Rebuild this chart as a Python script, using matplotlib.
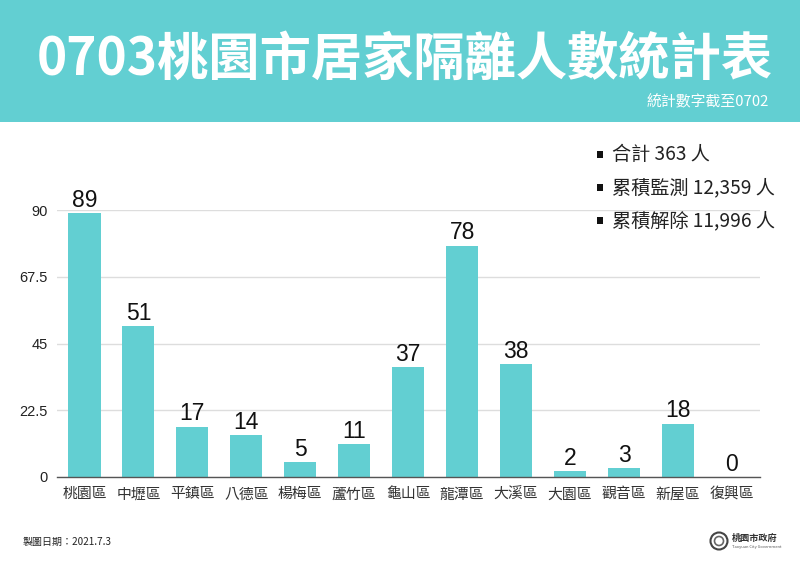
import matplotlib
matplotlib.use("Agg")
import matplotlib.pyplot as plt
from matplotlib.patches import Rectangle, Circle

plt.rcParams['font.family'] = ['Noto Sans CJK TC', 'DejaVu Sans']

districts = ['桃園區','中壢區','平鎮區','八德區','楊梅區','蘆竹區','龜山區','龍潭區','大溪區','大園區','觀音區','新屋區','復興區']
counts = [89,51,17,14,5,11,37,78,38,2,3,18,0]
yticks = [0,22.5,45,67.5,90]
ytick_labels = ['0','22.5','45','67.5','90']
summary = ['合計 363 人','累積監測 12,359 人','累積解除 11,996 人']

W,H = 800,565
TEAL = '#62CFD2'
fig = plt.figure(figsize=(8,5.65),dpi=100,facecolor='white')
bg = fig.add_axes([0,0,1,1]); bg.set_xlim(0,W); bg.set_ylim(H,0); bg.axis('off')
bg.add_patch(Rectangle((0,0),W,122,color=TEAL,lw=0))
bg.text(404.5,59,'0703桃園市居家隔離人數統計表',color='white',fontsize=36.9,fontweight='bold',ha='center',va='center')
bg.text(769,102,'統計數字截至0702',color='white',fontsize=10.7,ha='right',va='center')

ax = fig.add_axes([57.5/W,1-477/H,(760-57.5)/W,(477-210)/H])
ax.patch.set_alpha(0)
ax.bar(range(len(counts)),counts,width=0.595,color=TEAL,zorder=2)
ax.set_xlim(-0.5,12.52); ax.set_ylim(0,90)
ax.set_yticks(yticks); ax.set_yticklabels(ytick_labels,fontsize=10.5,color='#222222',family=['Liberation Sans','Noto Sans CJK TC'])
ax.set_xticks(range(len(districts))); ax.set_xticklabels(districts,fontsize=10.7,color='#333333')
ax.tick_params(length=0); ax.tick_params(axis='x',pad=7.5); ax.tick_params(axis='y',pad=7)
ax.grid(axis='y',color='#DDDDDD',lw=1,zorder=0); ax.set_axisbelow(True)
for s in ['top','left','right']: ax.spines[s].set_visible(False)
ax.spines['bottom'].set_color('#555555'); ax.spines['bottom'].set_linewidth(1)
for i,v in enumerate(counts):
    ax.annotate(str(v),(i,v),xytext=(0,0.8),textcoords='offset points',ha='center',va='bottom',fontsize=16.5,color='#111111',clip_on=False,
                family=['Liberation Sans','Noto Sans CJK TC'])

for t,y in zip(summary,[154,187,220]):
    bg.add_patch(Rectangle((597,y-3),6,7,color='#111111',lw=0,zorder=5))
    bg.text(612,y+0.5,t,fontsize=13.8,color='#222222',ha='left',va='center',zorder=5)

bg.text(23,542,'製圖日期：2021.7.3',fontsize=7.2,color='#222222',ha='left',va='center')
bg.add_patch(Circle((719,541),8.5,fill=False,ec='#444444',lw=1.5))
bg.add_patch(Circle((719,541),4.5,fill=False,ec='#666666',lw=1.2))
bg.text(732,538,'桃園市政府',fontsize=6.6,color='#333333',ha='left',va='center',fontweight='bold')
bg.text(732,547,'Taoyuan City Government',fontsize=2.9,color='#555555',ha='left',va='center')
fig.savefig('out.png',dpi=100)
